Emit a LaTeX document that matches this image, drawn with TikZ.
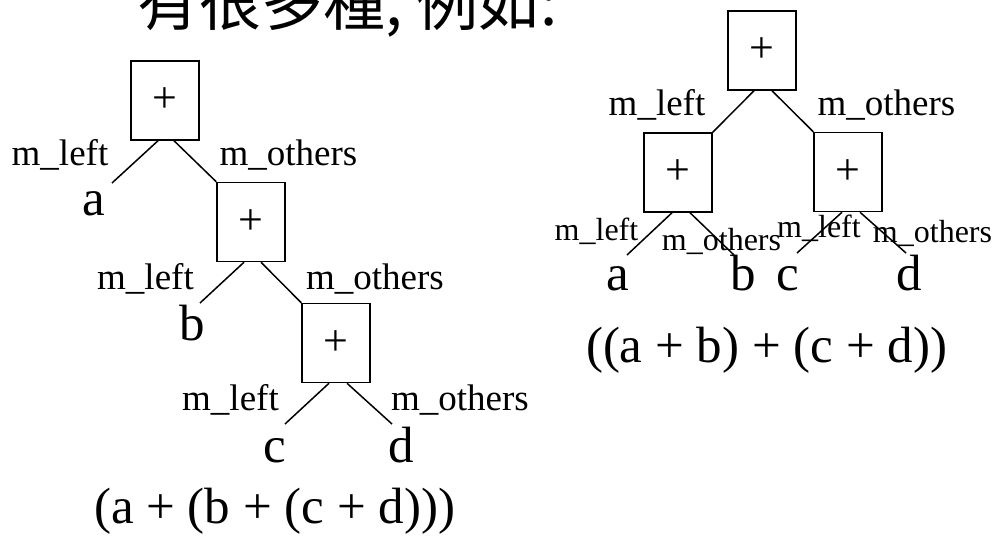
\documentclass[tikz,border=0pt]{standalone}
\usepackage{fontspec}
\setmainfont{Liberation Serif}
\newfontfamily\cjk{Noto Sans CJK TC}
\usepackage{tikz}
\usetikzlibrary{calc}

\tikzset{
  opbox/.style={draw, line width=1.5pt, rectangle, minimum width=68pt, minimum height=79pt, inner sep=0pt, font=\fontsize{44}{44}\selectfont},
  leaf/.style={inner sep=0pt, anchor=base, font=\fontsize{51}{51}\selectfont},
  lbl/.style={inner sep=0pt, anchor=base, font=\fontsize{37}{37}\selectfont},
  smalllbl/.style={inner sep=0pt, anchor=base, font=\fontsize{32}{32}\selectfont},
  link/.style={line width=1.5pt}
}

\begin{document}
\begin{tikzpicture}[x=1pt, y=-1pt]
    \useasboundingbox (0,0) rectangle (992,535);
    \node [inner sep=0pt, anchor=base west, font=\cjk\fontsize{62}{62}\selectfont] (title) at (137,26) {有很多種, 例如:};

    % left tree: (a + (b + (c + d)))
    \node [opbox] (plusA) at (165,100.5) {+};
    \node [opbox] (plusB) at (251,222) {+};
    \node [opbox] (plusC) at (336,343) {+};

    \node [lbl] (leftA) at (60,165) {m\_left};
    \node [lbl] (othersA) at (288.5,165) {m\_others};
    \node [lbl] (leftB) at (145.5,289) {m\_left};
    \node [lbl] (othersB) at (375,289) {m\_others};
    \node [lbl] (leftC) at (230.5,410) {m\_left};
    \node [lbl] (othersC) at (460,410) {m\_others};

    \node [leaf] (la) at (94,215) {a};
    \node [leaf] (lb) at (192,340) {b};
    \node [leaf] (lc) at (275,462) {c};
    \node [leaf] (ld) at (401,462) {d};
    \node [leaf] (exprL) at (274.5,523) {(a + (b + (c + d)))};

    \coordinate (ea) at (112,183);
    \coordinate (eb) at (200,303);
    \coordinate (ec) at (285,424);
    \coordinate (ed) at (392,424);

    \draw [link] ([xshift=-7pt]plusA.south) -- (ea);
    \draw [link] ([xshift=9pt]plusA.south) -- (plusB.north west);
    \draw [link] ([xshift=-7pt]plusB.south) -- (eb);
    \draw [link] ([xshift=10pt]plusB.south) -- (plusC.north west);
    \draw [link] ([xshift=-7pt]plusC.south) -- (ec);
    \draw [link] ([xshift=11pt]plusC.south) -- (ed);

    % right tree: ((a + b) + (c + d))
    \node [opbox] (plusTop) at (762,50.5) {+};
    \node [opbox] (plusL) at (678,172.5) {+};
    \node [opbox] (plusR) at (848,172) {+};

    \node [lbl] (leftTop) at (657,115) {m\_left};
    \node [lbl] (othersTop) at (886.5,115) {m\_others};
    \node [smalllbl] (leftL) at (596.5,240) {m\_left};
    \node [smalllbl] (othersL) at (721.5,250) {m\_others};
    \node [smalllbl] (leftR) at (819,237) {m\_left};
    \node [smalllbl] (othersR) at (932.5,242) {m\_others};

    \node [leaf] (ra) at (617.5,290) {a};
    \node [leaf] (rb) at (743,290) {b};
    \node [leaf] (rc) at (787.5,290) {c};
    \node [leaf] (rd) at (909,290) {d};
    \node [leaf] (exprR) at (766.5,362) {((a + b) + (c + d))};

    \coordinate (fa) at (627,255);
    \coordinate (fb) at (734,255);
    \coordinate (fc) at (797,253);
    \coordinate (fd) at (906,253);

    \draw [link] ([xshift=-8pt]plusTop.south) -- (plusL.north east);
    \draw [link] ([xshift=10pt]plusTop.south) -- (plusR.north west);
    \draw [link] ([xshift=-6pt]plusL.south) -- (fa);
    \draw [link] ([xshift=12pt]plusL.south) -- (fb);
    \draw [link] ([xshift=-6pt]plusR.south) -- (fc);
    \draw [link] ([xshift=12pt]plusR.south) -- (fd);
\end{tikzpicture}
\end{document}
